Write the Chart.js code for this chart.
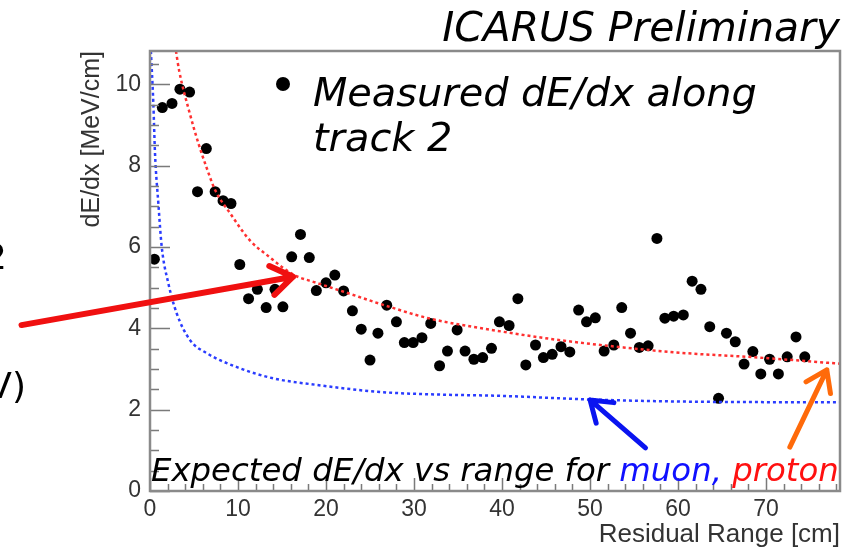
<!DOCTYPE html>
<html>
<head>
<meta charset="utf-8">
<title>dE/dx vs residual range</title>
<script src="https://cdn.jsdelivr.net/npm/chart.js@4"></script>
<style>
  html, body { margin: 0; padding: 0; background: #fff; }
  #wrap { width: 864px; height: 549px; position: relative; }
</style>
</head>
<body>
<div id="wrap"><canvas id="dedxChart"></canvas></div>
<script>
// measured dE/dx along track 2, one point per hit
const rangeCm = [0.5, 1.4, 2.5, 3.4, 4.5, 5.4, 6.4, 7.4, 8.3, 9.2,
  10.2, 11.2, 12.2, 13.2, 14.2, 15.1, 16.1, 17.1, 18.1, 18.9,
  20.0, 21.0, 22.0, 23.0, 24.0, 25.0, 25.9, 26.9, 28.0, 28.9,
  29.9, 30.9, 31.9, 32.9, 33.8, 34.9, 35.8, 36.8, 37.8, 38.8,
  39.7, 40.8, 41.8, 42.7, 43.8, 44.7, 45.7, 46.7, 47.7, 48.7,
  49.6, 50.6, 51.6, 52.7, 53.6, 54.6, 55.6, 56.6, 57.6, 58.5,
  59.5, 60.6, 61.6, 62.6, 63.6, 64.6, 65.5, 66.5, 67.5, 68.5,
  69.4, 70.4, 71.4, 72.4, 73.4, 74.4];
const dedx = [5.70, 9.43, 9.53, 9.88, 9.81, 7.36, 8.42, 7.36, 7.14, 7.07,
  5.57, 4.73, 4.96, 4.51, 4.96, 4.53, 5.76, 6.31, 5.74, 4.93,
  5.12, 5.31, 4.92, 4.43, 3.98, 3.22, 3.88, 4.57, 4.16, 3.65,
  3.65, 3.77, 4.12, 3.08, 3.44, 3.96, 3.44, 3.24, 3.28, 3.51,
  4.16, 4.07, 4.73, 3.10, 3.59, 3.28, 3.36, 3.55, 3.42, 4.45,
  4.16, 4.26, 3.44, 3.59, 4.51, 3.88, 3.53, 3.57, 6.21, 4.25,
  4.30, 4.33, 5.16, 4.96, 4.04, 2.28, 3.88, 3.67, 3.12, 3.43,
  2.88, 3.24, 2.88, 3.30, 3.79, 3.30];

// expected dE/dx vs range
const muonRange = [0.1, 0.38, 0.57, 0.95, 1.33, 2.08, 3.03, 4.55, 6.44, 10.2, 14.0, 18.9, 25.8, 31.4, 39.8, 50.0, 60.2, 78.4];
const muonDedx  = [10.82, 9.53, 8.30, 7.07, 6.01, 5.11, 4.37, 3.71, 3.39, 3.02, 2.77, 2.61, 2.44, 2.38, 2.34, 2.25, 2.20, 2.18];
const protonRange = [2.95, 3.3, 4.5, 5.5, 6.4, 7.4, 9.1, 11.4, 13.3, 16.3, 18.9, 22.0, 26.9, 31.8, 38.6, 46.2, 53.8, 60.2, 68.6, 78.4];
const protonDedx  = [10.82, 10.35, 9.3, 8.55, 7.97, 7.40, 6.83, 6.15, 5.80, 5.32, 5.12, 4.90, 4.55, 4.24, 3.97, 3.72, 3.53, 3.40, 3.29, 3.13];

const xTicks = [0, 10, 20, 30, 40, 50, 60, 70];
const yTicks = [0, 2, 4, 6, 8, 10];
const xMax = 78.4;
const yMax = 10.82;

const toPoints = (xs, ys) => xs.map((x, i) => ({ x, y: ys[i] }));

const handFont = "'Comic Sans MS', 'DejaVu Sans', sans-serif";
const axisFont = "'Liberation Sans', Arial, sans-serif";

// ROOT-like frame: grey box with ticks pointing into the pad
const frameTicks = {
  id: 'frameTicks',
  afterDatasetsDraw(chart) {
    const { ctx, chartArea: a, scales: { x, y } } = chart;
    ctx.save();
    ctx.strokeStyle = '#7a7a7a';
    ctx.lineWidth = 1.5;
    ctx.beginPath();
    for (let v = 0; v <= xMax; v += 2) {
      const px = Math.round(x.getPixelForValue(v)) + 0.5;
      const len = v % 10 === 0 ? 13 : 7;
      ctx.moveTo(px, a.bottom);
      ctx.lineTo(px, a.bottom - len);
    }
    for (let v = 0; v <= yMax; v += 0.5) {
      const py = Math.round(y.getPixelForValue(v)) + 0.5;
      const len = v % 2 === 0 ? 20 : 9;
      ctx.moveTo(a.left, py);
      ctx.lineTo(a.left + len, py);
    }
    ctx.stroke();
    ctx.lineWidth = 2.5;
    ctx.strokeStyle = '#8a8a8a';
    ctx.strokeRect(a.left, a.top, a.right - a.left, a.bottom - a.top);
    ctx.restore();
  }
};

function fitSize(ctx, text, width, style) {
  ctx.font = `${style} 100px ${handFont}`;
  return 100 * width / ctx.measureText(text).width;
}

function arrow(ctx, x0, y0, x1, y1, color, width, head) {
  const ang = Math.atan2(y1 - y0, x1 - x0);
  const spread = 0.6;
  ctx.save();
  ctx.strokeStyle = color;
  ctx.lineWidth = width;
  ctx.lineCap = 'round';
  ctx.lineJoin = 'round';
  ctx.beginPath();
  ctx.moveTo(x0, y0);
  ctx.lineTo(x1, y1);
  ctx.moveTo(x1 - head * Math.cos(ang - spread), y1 - head * Math.sin(ang - spread));
  ctx.lineTo(x1, y1);
  ctx.lineTo(x1 - head * Math.cos(ang + spread), y1 - head * Math.sin(ang + spread));
  ctx.stroke();
  ctx.restore();
}

// arrows are given in data units: [tailX, tailY, tipX, tipY]
const arrowsData = [
  { pts: [-14.6, 4.08, 16.25, 5.27], color: '#f01010', width: 6, head: 26 },
  { pts: [56.3, 1.06, 50.0, 2.24], color: '#0a14f0', width: 5, head: 24 },
  { pts: [72.7, 1.08, 76.9, 2.98], color: '#ff6a0a', width: 5, head: 24 }
];

const annotations = {
  id: 'annotations',
  afterDraw(chart) {
    const { ctx, scales: { x, y } } = chart;
    ctx.save();
    ctx.textBaseline = 'alphabetic';

    // header
    let s = fitSize(ctx, 'ICARUS Preliminary', 398, 'italic');
    ctx.font = `italic ${s}px ${handFont}`;
    ctx.fillStyle = '#000';
    ctx.textAlign = 'right';
    ctx.fillText('ICARUS Preliminary', 840, 41);

    // bullet note
    ctx.textAlign = 'left';
    ctx.beginPath();
    ctx.arc(283, 84, 7, 0, Math.PI * 2);
    ctx.fill();
    s = fitSize(ctx, 'Measured dE/dx along', 444, 'italic');
    ctx.font = `italic ${s}px ${handFont}`;
    ctx.fillText('Measured dE/dx along', 313, 106);
    ctx.fillText('track 2', 313, 151);

    // clipped slide text at the left edge
    ctx.font = `36px ${handFont}`;
    ctx.textAlign = 'right';
    ctx.fillText('2', 7, 269);
    ctx.fillText('MeV)', 26, 398);

    // expected curves caption
    const parts = [['Expected dE/dx vs range for ', '#000'], ['muon,', '#1010ff'], [' proton', '#ff1010']];
    s = fitSize(ctx, parts.map(p => p[0]).join(''), 688, 'italic');
    ctx.font = `italic ${s}px ${handFont}`;
    ctx.textAlign = 'left';
    let cx = 151;
    for (const [t, c] of parts) {
      ctx.fillStyle = c;
      ctx.fillText(t, cx, 481);
      cx += ctx.measureText(t).width;
    }
    ctx.restore();

    for (const a of arrowsData) {
      const [x0, y0, x1, y1] = a.pts;
      arrow(ctx, x.getPixelForValue(x0), y.getPixelForValue(y0),
        x.getPixelForValue(x1), y.getPixelForValue(y1), a.color, a.width, a.head);
    }
  }
};

new Chart(document.getElementById('dedxChart'), {
  type: 'scatter',
  data: {
    datasets: [
      {
        label: 'proton',
        data: toPoints(protonRange, protonDedx),
        showLine: true,
        borderColor: '#ff3030',
        borderWidth: 2.5,
        borderDash: [3, 3],
        pointRadius: 0,
        cubicInterpolationMode: 'monotone'
      },
      {
        label: 'muon',
        data: toPoints(muonRange, muonDedx),
        showLine: true,
        borderColor: '#2a3cff',
        borderWidth: 2.5,
        borderDash: [3, 3],
        pointRadius: 0,
        cubicInterpolationMode: 'monotone'
      },
      {
        label: 'track 2',
        data: toPoints(rangeCm, dedx),
        backgroundColor: '#000',
        borderWidth: 0,
        pointRadius: 5.5
      }
    ]
  },
  options: {
    responsive: true,
    maintainAspectRatio: false,
    animation: false,
    events: [],
    layout: { padding: { top: 51, right: 24, left: 0, bottom: 0 } },
    plugins: { legend: { display: false }, tooltip: { enabled: false } },
    scales: {
      x: {
        type: 'linear',
        min: 0,
        max: xMax,
        afterFit: s => { s.height = 58; },
        afterBuildTicks: s => { s.ticks = xTicks.map(v => ({ value: v })); },
        grid: { display: false, drawTicks: false },
        border: { display: false },
        ticks: { color: '#333', padding: 5, maxRotation: 0, font: { family: axisFont, size: 23 } },
        title: {
          display: true, text: 'Residual Range [cm]', align: 'end', color: '#333',
          font: { family: axisFont, size: 26 }, padding: { top: 0, bottom: -1 }
        }
      },
      y: {
        type: 'linear',
        min: 0,
        max: yMax,
        afterFit: s => { s.width = 150; },
        afterBuildTicks: s => { s.ticks = yTicks.map(v => ({ value: v })); },
        grid: { display: false, drawTicks: false },
        border: { display: false },
        ticks: { color: '#333', padding: 9, font: { family: axisFont, size: 23 } },
        title: {
          display: true, text: 'dE/dx [MeV/cm]', align: 'end', color: '#333',
          font: { family: axisFont, size: 25 }, padding: { top: 77, bottom: 0 }
        }
      }
    }
  },
  plugins: [frameTicks, annotations]
});
</script>
</body>
</html>
